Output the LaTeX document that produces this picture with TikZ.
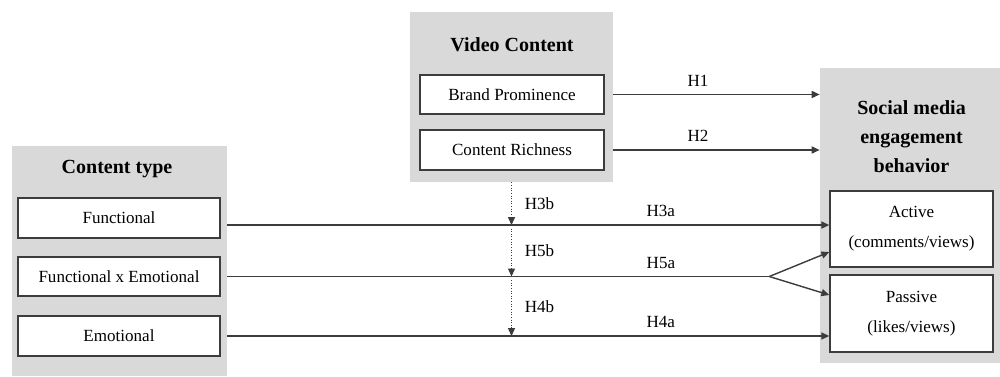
\documentclass[tikz,border=0pt]{standalone}
\usepackage{fontspec}
\setmainfont{Liberation Serif}
\usetikzlibrary{arrows.meta,positioning}
\definecolor{panelgray}{HTML}{D9D9D9}
\definecolor{linegray}{HTML}{3C3C3C}
\tikzset{
  panel/.style={fill=panelgray, draw=none, inner sep=0pt},
  paneltitle/.style={font=\fontsize{11.4}{16.5}\selectfont\bfseries, align=center},
  itembox/.style={draw=linegray, fill=white, line width=0.8pt, inner sep=0pt,
    font=\fontsize{9.7}{17}\selectfont, align=center},
  link/.style={draw=linegray, line width=0.8pt, -{Triangle[length=4.5pt,width=4pt]}},
  modlink/.style={draw=linegray, line width=0.5pt, densely dotted,
    -{Triangle[length=4.5pt,width=4pt]}},
  hyp/.style={font=\fontsize{9.7}{12}\selectfont}
}
\begin{document}
\begin{tikzpicture}
\useasboundingbox (0,0) rectangle (20,7.52);
% grey panels
\node[panel, minimum width=4.3cm, minimum height=4.6cm] (typepanel) at (2.39,2.3) {};
\node[panel, minimum width=4.06cm, minimum height=3.4cm] (videopanel) at (10.23,5.58) {};
\node[panel, minimum width=3.6cm, minimum height=5.9cm] (engpanel) at (18.2,3.21) {};
\node[paneltitle] (typetitle) at (2.34,4.14) {Content type};
\node[paneltitle] (videotitle) at (10.24,6.62) {Video Content};
\node[paneltitle] (engtitle) at (18.23,4.78) {Social media\\engagement\\behavior};
% boxes inside the panels
\node[itembox, minimum width=4.04cm, minimum height=0.8cm] (functional) at (2.38,3.16) {Functional};
\node[itembox, minimum width=4.04cm, minimum height=0.78cm] (funcemo) at (2.38,1.99) {Functional x Emotional};
\node[itembox, minimum width=4.04cm, minimum height=0.8cm] (emotional) at (2.38,0.8) {Emotional};
\node[itembox, minimum width=3.68cm, minimum height=0.78cm] (brand) at (10.24,5.63) {Brand Prominence};
\node[itembox, minimum width=3.68cm, minimum height=0.8cm] (richness) at (10.24,4.52) {Content Richness};
\node[itembox, minimum width=3.26cm, minimum height=1.52cm] (active) at (18.23,2.94) {Active\\(comments/views)};
\node[itembox, minimum width=3.26cm, minimum height=1.54cm] (passive) at (18.23,1.25) {Passive\\(likes/views)};
% rows of the content type links
\coordinate (rowfunc) at ([yshift=-4pt]functional.east -| typepanel.east);
\coordinate (rowmix) at (funcemo.east -| typepanel.east);
\coordinate (rowemo) at (emotional.east -| typepanel.east);
\coordinate (split) at ([xshift=-1.2cm]active.west |- rowmix);
% direct effects
\draw[link] (brand.east -| videopanel.east) -- (brand.east -| engpanel.west)
  node[hyp, pos=0.41, above=1pt] {H1};
\draw[link] (richness.east -| videopanel.east) -- (richness.east -| engpanel.west)
  node[hyp, pos=0.41, above=1pt] {H2};
\draw[link] (rowfunc) -- (rowfunc -| active.west)
  node[hyp, pos=0.72, above=1pt] {H3a};
\draw[draw=linegray, line width=0.8pt] (rowmix) -- (split)
  node[hyp, pos=0.8, above=1pt] {H5a};
\draw[link] (split) -- ([yshift=-0.46cm]active.west);
\draw[link] (split) -- ([yshift=0.37cm]passive.west);
\draw[link] (rowemo) -- (rowemo -| passive.west)
  node[hyp, pos=0.72, above=1pt] {H4a};
% moderating effects
\draw[modlink] (videopanel.south) -- (videopanel.south |- rowfunc)
  node[hyp, midway, right=4pt] {H3b};
\draw[modlink, shorten <=2pt] (videopanel.south |- rowfunc) -- (videopanel.south |- rowmix)
  node[hyp, midway, right=4pt] {H5b};
\draw[modlink, shorten <=2pt] (videopanel.south |- rowmix) -- (videopanel.south |- rowemo)
  node[hyp, midway, right=4pt] {H4b};
\end{tikzpicture}
\end{document}
